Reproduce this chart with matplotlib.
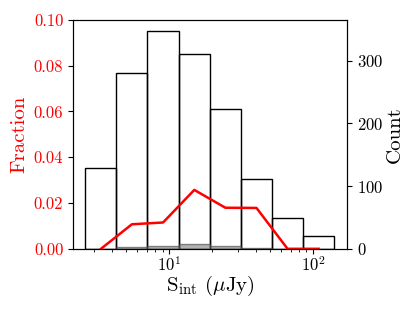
import numpy as np
import matplotlib
matplotlib.use("Agg")
from matplotlib import pyplot as plt

plt.rcParams['font.family'] = 'serif'
plt.rcParams['font.serif'] = ['cmr10']
plt.rcParams['mathtext.fontset'] = 'cm'
plt.rcParams['axes.unicode_minus'] = False
plt.rcParams['axes.formatter.use_mathtext'] = True

# log10 bin edges of S_int (uJy)
log_edges = [0.419, 0.634, 0.849, 1.067, 1.283, 1.499, 1.715, 1.931, 2.147]
counts_all = [129, 280, 348, 311, 223, 112, 49, 21]
counts_sub = [0, 3, 4, 8, 4, 2, 0, 0]

edges = 10 ** np.array(log_edges)
centers = 10 ** ((np.array(log_edges[:-1]) + np.array(log_edges[1:])) / 2)
fraction = np.array(counts_sub) / np.array(counts_all)

fig, ax = plt.subplots(figsize=(4.15, 3.11), dpi=100)
fig.subplots_adjust(left=0.176, right=0.836, bottom=0.2, top=0.936)
ax2 = ax.twinx()

widths = np.diff(edges)
ax2.bar(edges[:-1], counts_all, width=widths, align='edge',
        facecolor='none', edgecolor='black', linewidth=1.0)
ax2.bar(edges[:-1], counts_sub, width=widths, align='edge',
        facecolor='gray', edgecolor='#404040', alpha=0.6, linewidth=1.0)
ax2.set_ylim(0, 365)
ax2.set_ylabel('Count', fontsize=15, labelpad=2)
ax2.tick_params(labelsize=12)

ax.plot(centers, fraction, color='red', linewidth=1.8)
ax.set_xscale('log')
ax.set_xlim(2.15, 172)
ax.set_ylim(0, 0.1)
ax.set_yticks([0, 0.02, 0.04, 0.06, 0.08, 0.1])
ax.set_yticklabels(['0.00', '0.02', '0.04', '0.06', '0.08', '0.10'])
ax.set_ylabel('Fraction', color='red', fontsize=15)
ax.tick_params(axis='y', colors='black', labelcolor='red', labelsize=12)
ax.tick_params(axis='x', labelsize=12, pad=1)
ax.set_xlabel(r'S$_{\rm int}$ ($\mu$Jy)', fontsize=15, labelpad=0)
ax.set_zorder(ax2.get_zorder() + 1)
ax.patch.set_visible(False)

fig.savefig('out.png', dpi=100)
